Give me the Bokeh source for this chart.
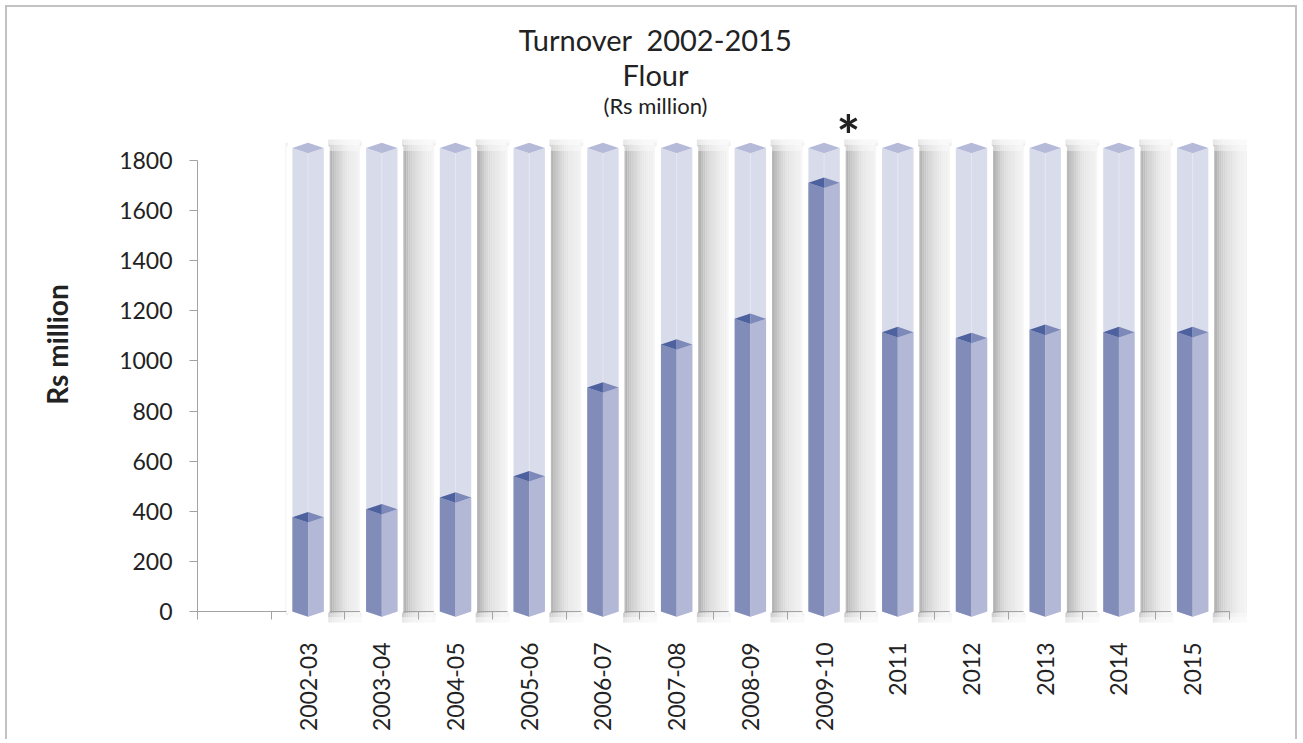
import math
from bokeh.plotting import figure
from bokeh.models import Range1d, LinearAxis, FixedTicker, Label
from bokeh.embed import file_html
from bokeh.resources import INLINE

# ---------------- data ----------------
years = ["2002-03", "2003-04", "2004-05", "2005-06", "2006-07", "2007-08",
         "2008-09", "2009-10", "2011", "2012", "2013", "2014", "2015"]
turnover = [376, 408, 455, 540, 894, 1066, 1168, 1711, 1115, 1092, 1124, 1115, 1115]
full_scale = 1850            # height of the transparent "glass" bars
y_ticks = [0, 200, 400, 600, 800, 1000, 1200, 1400, 1600, 1800]
title_lines = ["Turnover  2002-2015", "Flour", "(Rs million)"]
y_title = "Rs million"
note_mark = "*"
note_year = "2009-10"

# ---------------- layout (pixels) ----------------
W, H = 1292, 734               # canvas size
ORG = 7                        # canvas origin on the page (margin + border)
AX_X0, PX_PER_CAT = 197, 73.714                 # page x of category axis start
Y0_PAGE, PX_PER_UNIT = 611, 0.25056             # page y of value 0, px per Rs million
n_slots = 14

x_start = (ORG - AX_X0) / PX_PER_CAT
x_end = (ORG + W - AX_X0) / PX_PER_CAT
y_end = (Y0_PAGE - ORG) / PX_PER_UNIT
y_start = (Y0_PAGE - ORG - H) / PX_PER_UNIT

def xu(page_x):
    return (page_x - AX_X0) / PX_PER_CAT

def yu(page_y):
    return (Y0_PAGE - page_y) / PX_PER_UNIT

def grey(g):
    g = max(0, min(255, int(round(g))))
    return "#%02x%02x%02x" % (g, g, g)

# ---------------- style ----------------
FONT = "Lato"
TXT = "#222222"
AXIS = "#a3a3a3"
HW, DZ, PX, PY = 0.213, 21, 0.061, 20      # half width, diamond depth, outline pads
SH_W, SH_N = 0.46, 16                      # shadow width (x units) and steps

p = figure(width=W, height=H, x_range=Range1d(x_start, x_end), y_range=Range1d(y_start, y_end),
           x_axis_type=None, y_axis_type=None, output_backend="svg", toolbar_location=None,
           min_border=0)
p.outline_line_color = None
p.xgrid.visible = False
p.ygrid.visible = False
p.background_fill_color = "white"
p.border_fill_color = "white"
p.styles = {"margin-left": "5px", "margin-top": "5px",
            "border-left": "2px solid #c2c2c2", "border-top": "2px solid #c2c2c2",
            "border-right": "2px solid #c2c2c2"}

centers = [i + 1.5 for i in range(len(years))]
F = full_scale

# soft shadows to the right of each glass bar
sl, sr, st, sb, sc = [], [], [], [], []
for c in centers:
    x0 = c + HW + PX
    step = SH_W / SH_N
    for k in range(SH_N):
        t = (k + 0.5) / SH_N
        g = 249 - 90 * math.exp(-t / 0.36)
        # main body
        sl.append(x0 + k * step); sr.append(x0 + (k + 1) * step + 0.002)
        st.append(F - 10); sb.append(-8)
        sc.append(grey(g))
        # fading top and bottom
        for top, bot, mix in [(F + 14, F - 10, 0.45), (F + 34, F + 14, 0.75),
                              (-8, -24, 0.45), (-24, -44, 0.75)]:
            sl.append(x0 + k * step); sr.append(x0 + (k + 1) * step + 0.002)
            st.append(top); sb.append(bot)
            sc.append(grey(g + (252 - g) * mix))
    for k, g in enumerate([246, 238]):
        sl.append(c - HW - PX - 0.04 + k * 0.02); sr.append(c - HW - PX - 0.02 + k * 0.02)
        st.append(F + DZ); sb.append(-15)
        sc.append(grey(g))
p.quad(left=sl, right=sr, top=st, bottom=sb, fill_color=sc, line_color=None, level="image")

# x axis (category boundaries as minor ticks, labels at centres)
xaxis = LinearAxis(fixed_location=0, bounds=(0, n_slots),
                   ticker=FixedTicker(ticks=centers, minor_ticks=list(range(0, n_slots + 1))))
xaxis.major_label_overrides = {c: y for c, y in zip(centers, years)}
xaxis.major_tick_line_color = None
xaxis.major_tick_out = 0
xaxis.major_tick_in = 0
xaxis.minor_tick_out = 8
xaxis.minor_tick_in = 0
xaxis.minor_tick_line_color = AXIS
xaxis.axis_line_color = AXIS
xaxis.major_label_orientation = math.pi / 2
xaxis.major_label_standoff = 23
xaxis.major_label_text_font = FONT
xaxis.major_label_text_font_size = "23px"
xaxis.major_label_text_color = TXT
xaxis.level = "underlay"
p.add_layout(xaxis, "below")

yaxis = LinearAxis(fixed_location=0, bounds=(0, 1800), ticker=FixedTicker(ticks=y_ticks))
yaxis.axis_line_color = AXIS
yaxis.major_tick_line_color = AXIS
yaxis.major_tick_out = 8
yaxis.major_tick_in = 0
yaxis.minor_tick_line_color = None
yaxis.major_label_standoff = 17
yaxis.major_label_text_font = FONT
yaxis.major_label_text_font_size = "23px"
yaxis.major_label_text_color = TXT
p.add_layout(yaxis, "left")

# glass outline
ox, oy = [], []
for c in centers:
    ox.append([c - HW - PX, c - HW - PX, c, c + HW + PX, c + HW + PX, c])
    oy.append([0, F + 2, F + DZ + PY, F + 2, 0, -DZ - PY])
p.patches(ox, oy, fill_color="white", line_color="white", line_width=3, line_join="round")

# glass faces
gl_x, gl_y, gr_x, gr_y, gt_x, gt_y = [], [], [], [], [], []
for c in centers:
    gl_x.append([c - HW, c - HW, c, c]); gl_y.append([0, F, F - DZ, -DZ])
    gr_x.append([c, c, c + HW, c + HW]); gr_y.append([-DZ, F - DZ, F, 0])
    gt_x.append([c - HW, c, c + HW, c]); gt_y.append([F, F + DZ, F, F - DZ])
p.patches(gl_x, gl_y, fill_color="#d8dbea", line_color=None)
p.patches(gr_x, gr_y, fill_color="#d9dceb", line_color=None)
p.patches(gt_x, gt_y, fill_color="#b5bad9", line_color=None)
p.segment(x0=centers, y0=turnover, x1=centers, y1=[F - DZ] * len(centers),
          line_color="#e4e6f1", line_width=1)

# value prisms
vl_x, vl_y, vr_x, vr_y, tl_x, tl_y, tr_x, tr_y = [], [], [], [], [], [], [], []
for c, v in zip(centers, turnover):
    vl_x.append([c - HW, c - HW, c, c]); vl_y.append([0, v, v - DZ, -DZ])
    vr_x.append([c, c, c + HW, c + HW]); vr_y.append([-DZ, v - DZ, v, 0])
    tl_x.append([c - HW, c, c]); tl_y.append([v, v + DZ, v - DZ])
    tr_x.append([c, c, c + HW]); tr_y.append([v + DZ, v - DZ, v])
p.patches(vl_x, vl_y, fill_color="#818db8", line_color=None)
p.patches(vr_x, vr_y, fill_color="#b2b8d6", line_color=None)
p.patches(tl_x, tl_y, fill_color="#4d619e", line_color=None)
p.patches(tr_x, tr_y, fill_color="#7c89b9", line_color=None)

# titles (visual centres at page y 38.7, 73.7, 105.3)
for text, py_, size in zip(title_lines, [38.7, 73.7, 105.3], ["29px", "29px", "22px"]):
    shown = text.replace("  ", " \u00a0")   # keep the double space in SVG
    p.add_layout(Label(x=xu(655), y=yu(py_), text=shown, text_align="center",
                       text_baseline="middle", text_font=FONT, text_font_size=size,
                       text_color=TXT))

# y axis title
p.add_layout(Label(x=xu(56), y=yu(344), text=y_title, angle=math.pi / 2, text_align="center",
                   text_baseline="middle", text_font=FONT, text_font_style="bold",
                   text_font_size="28px", text_color=TXT))

# asterisk note next to 2009-10
ci = centers[years.index(note_year)]
p.add_layout(Label(x=ci + 0.33, y=yu(134), text=note_mark, text_align="center",
                   text_baseline="middle", text_font=FONT, text_font_style="bold",
                   text_font_size="56px", text_color=TXT))

open("out.html", "w").write(file_html(p, INLINE))
